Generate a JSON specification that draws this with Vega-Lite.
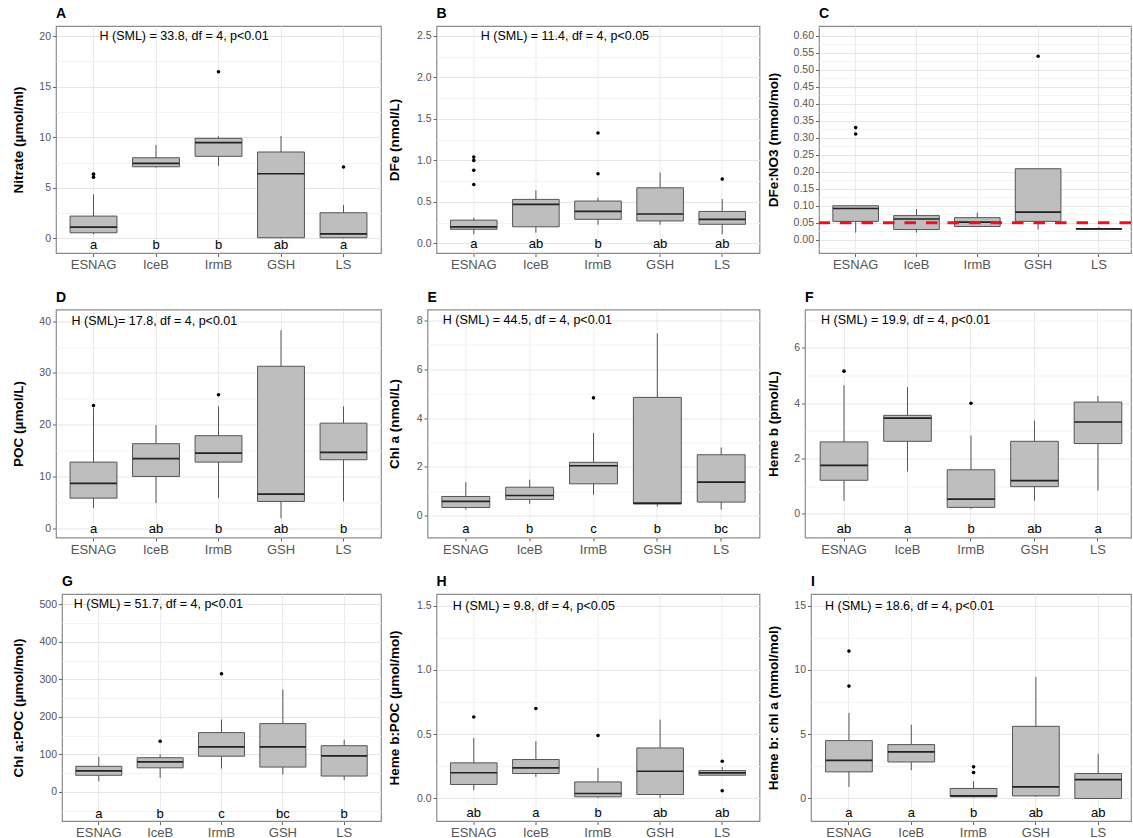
{
"$schema": "https://vega.github.io/schema/vega-lite/v6.json",
"background": "white",
"padding": {"left": 4.5, "top": 6, "right": 0, "bottom": 0},
"autosize": {"type": "pad"},
"config": {
  "font": "Liberation Sans",
  "view": {"stroke": "#8c8c8c", "strokeWidth": 1.2},
  "title": {"anchor": "start", "frame": "group", "fontSize": 14, "fontWeight": "bold", "color": "#000", "offset": 5, "baseline": "alphabetic", "font": "Liberation Sans"},
  "axisX": {"labelAngle": 0, "labelFontSize": 13, "labelColor": "#555", "tickSize": 3.5, "tickColor": "#666", "labelPadding": 2, "grid": true, "gridColor": "#EBEBEB", "domain": false, "labelFont": "Liberation Sans"},
  "axisY": {"labelFontSize": 10.5, "labelColor": "#555", "tickSize": 3.5, "tickColor": "#666", "labelPadding": 2, "titleFontSize": 13.5, "titleFontWeight": "bold", "titleColor": "#000", "titlePadding": 4, "domain": false, "labelOverlap": false, "labelSeparation": 0, "grid": true, "gridColor": "#E6E6E6", "labelFont": "Liberation Sans", "titleFont": "Liberation Sans"},
  "text": {"font": "Liberation Sans"}
},
"datasets": {
  "box": [
    {"p":"A","g":"ESNAG","lo":0.4,"q1":0.55,"med":1.1,"q3":2.2,"hi":4.35},
    {"p":"A","g":"IceB","lo":7.0,"q1":7.08,"med":7.42,"q3":7.97,"hi":9.23},
    {"p":"A","g":"IrmB","lo":7.15,"q1":8.11,"med":9.46,"q3":9.89,"hi":10.1},
    {"p":"A","g":"GSH","lo":0,"q1":0.06,"med":6.39,"q3":8.54,"hi":10.12},
    {"p":"A","g":"LS","lo":0,"q1":0.06,"med":0.45,"q3":2.53,"hi":3.3},
    {"p":"B","g":"ESNAG","lo":0.11,"q1":0.17,"med":0.2,"q3":0.28,"hi":0.31},
    {"p":"B","g":"IceB","lo":0.13,"q1":0.2,"med":0.47,"q3":0.53,"hi":0.64},
    {"p":"B","g":"IrmB","lo":0.225,"q1":0.29,"med":0.385,"q3":0.51,"hi":0.55},
    {"p":"B","g":"GSH","lo":0.225,"q1":0.27,"med":0.354,"q3":0.67,"hi":0.855},
    {"p":"B","g":"LS","lo":0.11,"q1":0.23,"med":0.29,"q3":0.385,"hi":0.535},
    {"p":"C","g":"ESNAG","lo":0.021,"q1":0.054,"med":0.092,"q3":0.1,"hi":0.1},
    {"p":"C","g":"IceB","lo":0.021,"q1":0.03,"med":0.061,"q3":0.071,"hi":0.09},
    {"p":"C","g":"IrmB","lo":0.039,"q1":0.039,"med":0.052,"q3":0.065,"hi":0.08},
    {"p":"C","g":"GSH","lo":0.03,"q1":0.054,"med":0.081,"q3":0.209,"hi":0.209},
    {"p":"C","g":"LS","lo":0.031,"q1":0.031,"med":0.032,"q3":0.033,"hi":0.037},
    {"p":"D","g":"ESNAG","lo":3.87,"q1":5.81,"med":8.65,"q3":12.77,"hi":23.2},
    {"p":"D","g":"IceB","lo":4.84,"q1":10.0,"med":13.43,"q3":16.33,"hi":19.9},
    {"p":"D","g":"IrmB","lo":5.81,"q1":12.77,"med":14.52,"q3":17.88,"hi":23.55},
    {"p":"D","g":"GSH","lo":1.94,"q1":5.17,"med":6.59,"q3":31.3,"hi":38.26},
    {"p":"D","g":"LS","lo":5.17,"q1":13.23,"med":14.65,"q3":20.3,"hi":23.55},
    {"p":"E","g":"ESNAG","lo":0.25,"q1":0.34,"med":0.59,"q3":0.79,"hi":1.38},
    {"p":"E","g":"IceB","lo":0.49,"q1":0.67,"med":0.83,"q3":1.17,"hi":1.48},
    {"p":"E","g":"IrmB","lo":0.86,"q1":1.31,"med":2.05,"q3":2.19,"hi":3.39},
    {"p":"E","g":"GSH","lo":0.38,"q1":0.48,"med":0.52,"q3":4.85,"hi":7.47},
    {"p":"E","g":"LS","lo":0.25,"q1":0.56,"med":1.38,"q3":2.5,"hi":2.8},
    {"p":"F","g":"ESNAG","lo":0.47,"q1":1.21,"med":1.75,"q3":2.6,"hi":4.65},
    {"p":"F","g":"IceB","lo":1.53,"q1":2.62,"med":3.46,"q3":3.56,"hi":4.58},
    {"p":"F","g":"IrmB","lo":0.18,"q1":0.23,"med":0.53,"q3":1.59,"hi":2.83},
    {"p":"F","g":"GSH","lo":0.47,"q1":0.98,"med":1.2,"q3":2.62,"hi":3.37},
    {"p":"F","g":"LS","lo":0.84,"q1":2.54,"med":3.32,"q3":4.04,"hi":4.26},
    {"p":"G","g":"ESNAG","lo":28,"q1":44,"med":56,"q3":68,"hi":93},
    {"p":"G","g":"IceB","lo":37,"q1":64,"med":80,"q3":91,"hi":100},
    {"p":"G","g":"IrmB","lo":62,"q1":95,"med":120,"q3":158,"hi":193},
    {"p":"G","g":"GSH","lo":46,"q1":66,"med":120,"q3":182,"hi":273},
    {"p":"G","g":"LS","lo":31,"q1":42,"med":96,"q3":123,"hi":139},
    {"p":"H","g":"ESNAG","lo":0.065,"q1":0.109,"med":0.2,"q3":0.277,"hi":0.47},
    {"p":"H","g":"IceB","lo":0.168,"q1":0.194,"med":0.238,"q3":0.303,"hi":0.445},
    {"p":"H","g":"IrmB","lo":0.005,"q1":0.013,"med":0.039,"q3":0.129,"hi":0.238},
    {"p":"H","g":"GSH","lo":0.005,"q1":0.031,"med":0.212,"q3":0.393,"hi":0.613},
    {"p":"H","g":"LS","lo":0.181,"q1":0.181,"med":0.199,"q3":0.217,"hi":0.245},
    {"p":"I","g":"ESNAG","lo":0.9,"q1":2.07,"med":2.97,"q3":4.5,"hi":6.65},
    {"p":"I","g":"IceB","lo":2.2,"q1":2.84,"med":3.62,"q3":4.19,"hi":5.74},
    {"p":"I","g":"IrmB","lo":0.08,"q1":0.13,"med":0.2,"q3":0.78,"hi":1.35},
    {"p":"I","g":"GSH","lo":0.13,"q1":0.2,"med":0.9,"q3":5.61,"hi":9.44},
    {"p":"I","g":"LS","lo":0,"q1":0,"med":1.47,"q3":1.94,"hi":3.47}
  ],
  "out": [
    {"p":"A","g":"ESNAG","v":6.05},{"p":"A","g":"ESNAG","v":6.35},{"p":"A","g":"IrmB","v":16.48},{"p":"A","g":"LS","v":7.05},
    {"p":"B","g":"ESNAG","v":1.04},{"p":"B","g":"ESNAG","v":1.0},{"p":"B","g":"ESNAG","v":0.88},{"p":"B","g":"ESNAG","v":0.71},{"p":"B","g":"IrmB","v":1.33},{"p":"B","g":"IrmB","v":0.84},{"p":"B","g":"LS","v":0.775},
    {"p":"C","g":"ESNAG","v":0.33},{"p":"C","g":"ESNAG","v":0.311},{"p":"C","g":"GSH","v":0.54},
    {"p":"D","g":"ESNAG","v":23.7},{"p":"D","g":"IrmB","v":25.8},
    {"p":"E","g":"IrmB","v":4.83},
    {"p":"F","g":"ESNAG","v":5.16},{"p":"F","g":"IrmB","v":4.0},
    {"p":"G","g":"IceB","v":135},{"p":"G","g":"IrmB","v":315},
    {"p":"H","g":"ESNAG","v":0.634},{"p":"H","g":"IceB","v":0.70},{"p":"H","g":"IrmB","v":0.49},{"p":"H","g":"LS","v":0.29},{"p":"H","g":"LS","v":0.06},
    {"p":"I","g":"ESNAG","v":11.46},{"p":"I","g":"ESNAG","v":8.74},{"p":"I","g":"IrmB","v":2.46},{"p":"I","g":"IrmB","v":2.02}
  ],
  "let": [
    {"p":"A","g":"ESNAG","l":"a"},{"p":"A","g":"IceB","l":"b"},{"p":"A","g":"IrmB","l":"b"},{"p":"A","g":"GSH","l":"ab"},{"p":"A","g":"LS","l":"a"},
    {"p":"B","g":"ESNAG","l":"a"},{"p":"B","g":"IceB","l":"ab"},{"p":"B","g":"IrmB","l":"b"},{"p":"B","g":"GSH","l":"ab"},{"p":"B","g":"LS","l":"ab"},
    {"p":"D","g":"ESNAG","l":"a"},{"p":"D","g":"IceB","l":"ab"},{"p":"D","g":"IrmB","l":"b"},{"p":"D","g":"GSH","l":"ab"},{"p":"D","g":"LS","l":"b"},
    {"p":"E","g":"ESNAG","l":"a"},{"p":"E","g":"IceB","l":"b"},{"p":"E","g":"IrmB","l":"c"},{"p":"E","g":"GSH","l":"b"},{"p":"E","g":"LS","l":"bc"},
    {"p":"F","g":"ESNAG","l":"ab"},{"p":"F","g":"IceB","l":"a"},{"p":"F","g":"IrmB","l":"b"},{"p":"F","g":"GSH","l":"ab"},{"p":"F","g":"LS","l":"a"},
    {"p":"G","g":"ESNAG","l":"a"},{"p":"G","g":"IceB","l":"b"},{"p":"G","g":"IrmB","l":"c"},{"p":"G","g":"GSH","l":"bc"},{"p":"G","g":"LS","l":"b"},
    {"p":"H","g":"ESNAG","l":"ab"},{"p":"H","g":"IceB","l":"a"},{"p":"H","g":"IrmB","l":"b"},{"p":"H","g":"GSH","l":"ab"},{"p":"H","g":"LS","l":"ab"},
    {"p":"I","g":"ESNAG","l":"a"},{"p":"I","g":"IceB","l":"a"},{"p":"I","g":"IrmB","l":"b"},{"p":"I","g":"GSH","l":"ab"},{"p":"I","g":"LS","l":"ab"}
  ]
},
"spacing": 16.5,
"bounds": "full",
"vconcat": [
{"spacing": 4.5, "bounds": "full", "hconcat": [
{"width": 1, "height": 227, "view": {"stroke": null}, "data": {"values": [{}]}, "mark": {"type": "point", "opacity": 0, "size": 0}},
{"width": 325, "height": 227, "title": {"text": "A"}, "resolve": {"axis": {"y": "independent"}},
 "layer": [
  {"data": {"name": "box"}, "transform": [{"filter": "datum.p==='A'"}], "mark": {"type": "rule", "color": "#555", "strokeWidth": 1},
   "encoding": {"x": {"field": "g", "type": "nominal", "scale": {"type": "band", "domain": ["ESNAG","IceB","IrmB","GSH","LS"], "paddingInner": 0.25, "paddingOuter": 0.225}, "axis": {"title": null, "bandPosition": 0.5}},
    "y": {"field": "lo", "type": "quantitative", "scale": {"domain": [-1.45, 21.0], "nice": false, "zero": false},
      "axis": {"orient": "left", "title": "Nitrate (µmol/ml)", "values": [0,5,10,15,20], "labelOverlap": false, "minExtent": 27, "maxExtent": 27}},
    "y2": {"field": "hi"}}},
  {"data": {"name": "box"}, "transform": [{"filter": "datum.p==='A'"}], "mark": {"type": "bar", "fill": "#BEBEBE", "stroke": "#555", "strokeWidth": 1},
   "encoding": {"x": {"field": "g", "type": "nominal"}, "y": {"field": "q1", "type": "quantitative", "axis": {"orient": "right", "values": [2.5,7.5,12.5,17.5], "labels": false, "ticks": false, "domain": false, "title": null, "grid": true, "gridColor": "#F3F3F3", "minExtent": 0, "maxExtent": 0}}, "y2": {"field": "q3"}}},
  {"data": {"name": "box"}, "transform": [{"filter": "datum.p==='A'"}], "mark": {"type": "bar", "fillOpacity": 0, "stroke": "#222", "strokeWidth": 1.7},
   "encoding": {"x": {"field": "g", "type": "nominal"}, "y": {"field": "med", "type": "quantitative", "axis": null}, "y2": {"field": "med"}}},
  {"data": {"name": "out"}, "transform": [{"filter": "datum.p==='A'"}], "mark": {"type": "circle", "color": "#000", "size": 13, "opacity": 1},
   "encoding": {"x": {"field": "g", "type": "nominal"}, "y": {"field": "v", "type": "quantitative", "axis": null}}},
  {"data": {"name": "let"}, "transform": [{"filter": "datum.p==='A'"}], "mark": {"type": "text", "fontSize": 13, "color": "#000", "baseline": "middle"},
   "encoding": {"x": {"field": "g", "type": "nominal"}, "y": {"datum": -0.66, "axis": null}, "text": {"field": "l"}}},
  {"data": {"values": [{}]}, "mark": {"type": "text", "align": "left", "baseline": "middle", "fontSize": 12.5, "color": "#000", "dx": 6},
   "encoding": {"x": {"datum": "ESNAG", "type": "nominal"}, "y": {"datum": 20, "axis": null}, "text": {"value": "H (SML) = 33.8, df = 4, p<0.01"}}}
 ]},
{"width": 323, "height": 227, "title": {"text": "B"}, "resolve": {"axis": {"y": "independent"}},
 "layer": [
  {"data": {"name": "box"}, "transform": [{"filter": "datum.p==='B'"}], "mark": {"type": "rule", "color": "#555", "strokeWidth": 1},
   "encoding": {"x": {"field": "g", "type": "nominal", "scale": {"type": "band", "domain": ["ESNAG","IceB","IrmB","GSH","LS"], "paddingInner": 0.25, "paddingOuter": 0.225}, "axis": {"title": null, "bandPosition": 0.5}},
    "y": {"field": "lo", "type": "quantitative", "scale": {"domain": [-0.116, 2.62], "nice": false, "zero": false},
      "axis": {"orient": "left", "title": "DFe (nmol/L)", "values": [0,0.5,1,1.5,2,2.5], "format": ".1f", "labelOverlap": false, "minExtent": 31, "maxExtent": 31}},
    "y2": {"field": "hi"}}},
  {"data": {"name": "box"}, "transform": [{"filter": "datum.p==='B'"}], "mark": {"type": "bar", "fill": "#BEBEBE", "stroke": "#555", "strokeWidth": 1},
   "encoding": {"x": {"field": "g", "type": "nominal"}, "y": {"field": "q1", "type": "quantitative", "axis": {"orient": "right", "values": [0.25,0.75,1.25,1.75,2.25], "labels": false, "ticks": false, "domain": false, "title": null, "grid": true, "gridColor": "#F3F3F3", "minExtent": 0, "maxExtent": 0}}, "y2": {"field": "q3"}}},
  {"data": {"name": "box"}, "transform": [{"filter": "datum.p==='B'"}], "mark": {"type": "bar", "fillOpacity": 0, "stroke": "#222", "strokeWidth": 1.7},
   "encoding": {"x": {"field": "g", "type": "nominal"}, "y": {"field": "med", "type": "quantitative", "axis": null}, "y2": {"field": "med"}}},
  {"data": {"name": "out"}, "transform": [{"filter": "datum.p==='B'"}], "mark": {"type": "circle", "color": "#000", "size": 13, "opacity": 1},
   "encoding": {"x": {"field": "g", "type": "nominal"}, "y": {"field": "v", "type": "quantitative", "axis": null}}},
  {"data": {"name": "let"}, "transform": [{"filter": "datum.p==='B'"}], "mark": {"type": "text", "fontSize": 13, "color": "#000", "baseline": "middle"},
   "encoding": {"x": {"field": "g", "type": "nominal"}, "y": {"datum": -0.01, "axis": null}, "text": {"field": "l"}}},
  {"data": {"values": [{}]}, "mark": {"type": "text", "align": "left", "baseline": "middle", "fontSize": 12.5, "color": "#000", "dx": 7},
   "encoding": {"x": {"datum": "ESNAG", "type": "nominal"}, "y": {"datum": 2.5, "axis": null}, "text": {"value": "H (SML) = 11.4, df = 4, p<0.05"}}}
 ]},
{"width": 312, "height": 227, "title": {"text": "C"}, "resolve": {"axis": {"y": "independent"}},
 "layer": [
  {"data": {"name": "box"}, "transform": [{"filter": "datum.p==='C'"}], "mark": {"type": "rule", "color": "#555", "strokeWidth": 1},
   "encoding": {"x": {"field": "g", "type": "nominal", "scale": {"type": "band", "domain": ["ESNAG","IceB","IrmB","GSH","LS"], "paddingInner": 0.25, "paddingOuter": 0.19, "align": 0.6}, "axis": {"title": null, "bandPosition": 0.5}},
    "y": {"field": "lo", "type": "quantitative", "scale": {"domain": [-0.039, 0.629], "nice": false, "zero": false},
      "axis": {"orient": "left", "title": "DFe:NO3 (mmol/mol)", "values": [0,0.05,0.1,0.15,0.2,0.25,0.3,0.35,0.4,0.45,0.5,0.55,0.6], "format": ".2f", "labelOverlap": false, "minExtent": 35, "maxExtent": 35}},
    "y2": {"field": "hi"}}},
  {"data": {"name": "box"}, "transform": [{"filter": "datum.p==='C'"}], "mark": {"type": "bar", "fill": "#BEBEBE", "stroke": "#555", "strokeWidth": 1},
   "encoding": {"x": {"field": "g", "type": "nominal"}, "y": {"field": "q1", "type": "quantitative", "axis": {"orient": "right", "values": [-0.025,0.025,0.075,0.125,0.175,0.225,0.275,0.325,0.375,0.425,0.475,0.525,0.575,0.625], "labels": false, "ticks": false, "domain": false, "title": null, "grid": true, "gridColor": "#F3F3F3", "minExtent": 0, "maxExtent": 0}}, "y2": {"field": "q3"}}},
  {"data": {"name": "box"}, "transform": [{"filter": "datum.p==='C'"}], "mark": {"type": "bar", "fillOpacity": 0, "stroke": "#222", "strokeWidth": 1.7},
   "encoding": {"x": {"field": "g", "type": "nominal"}, "y": {"field": "med", "type": "quantitative", "axis": null}, "y2": {"field": "med"}}},
  {"data": {"name": "out"}, "transform": [{"filter": "datum.p==='C'"}], "mark": {"type": "circle", "color": "#000", "size": 13, "opacity": 1},
   "encoding": {"x": {"field": "g", "type": "nominal"}, "y": {"field": "v", "type": "quantitative", "axis": null}}},
  {"data": {"values": [{}]}, "mark": {"type": "rule", "color": "#E8141B", "strokeWidth": 3, "strokeDash": [11.5, 10]},
   "encoding": {"y": {"datum": 0.05, "axis": null}}}
 ]}
]},
{"spacing": 4.5, "bounds": "full", "hconcat": [
{"width": 1, "height": 228, "view": {"stroke": null}, "data": {"values": [{}]}, "mark": {"type": "point", "opacity": 0, "size": 0}},
{"width": 325, "height": 228, "title": {"text": "D"}, "resolve": {"axis": {"y": "independent"}},
 "layer": [
  {"data": {"name": "box"}, "transform": [{"filter": "datum.p==='D'"}], "mark": {"type": "rule", "color": "#555", "strokeWidth": 1},
   "encoding": {"x": {"field": "g", "type": "nominal", "scale": {"type": "band", "domain": ["ESNAG","IceB","IrmB","GSH","LS"], "paddingInner": 0.25, "paddingOuter": 0.225}, "axis": {"title": null, "bandPosition": 0.5}},
    "y": {"field": "lo", "type": "quantitative", "scale": {"domain": [-1.8, 42.27], "nice": false, "zero": false},
      "axis": {"orient": "left", "title": "POC (µmol/L)", "values": [0,10,20,30,40], "labelOverlap": false, "minExtent": 27, "maxExtent": 27}},
    "y2": {"field": "hi"}}},
  {"data": {"name": "box"}, "transform": [{"filter": "datum.p==='D'"}], "mark": {"type": "bar", "fill": "#BEBEBE", "stroke": "#555", "strokeWidth": 1},
   "encoding": {"x": {"field": "g", "type": "nominal"}, "y": {"field": "q1", "type": "quantitative", "axis": {"orient": "right", "values": [5,15,25,35], "labels": false, "ticks": false, "domain": false, "title": null, "grid": true, "gridColor": "#F3F3F3", "minExtent": 0, "maxExtent": 0}}, "y2": {"field": "q3"}}},
  {"data": {"name": "box"}, "transform": [{"filter": "datum.p==='D'"}], "mark": {"type": "bar", "fillOpacity": 0, "stroke": "#222", "strokeWidth": 1.7},
   "encoding": {"x": {"field": "g", "type": "nominal"}, "y": {"field": "med", "type": "quantitative", "axis": null}, "y2": {"field": "med"}}},
  {"data": {"name": "out"}, "transform": [{"filter": "datum.p==='D'"}], "mark": {"type": "circle", "color": "#000", "size": 13, "opacity": 1},
   "encoding": {"x": {"field": "g", "type": "nominal"}, "y": {"field": "v", "type": "quantitative", "axis": null}}},
  {"data": {"name": "let"}, "transform": [{"filter": "datum.p==='D'"}], "mark": {"type": "text", "fontSize": 13, "color": "#000", "baseline": "middle"},
   "encoding": {"x": {"field": "g", "type": "nominal"}, "y": {"datum": -0.2, "axis": null}, "text": {"field": "l"}}},
  {"data": {"values": [{}]}, "mark": {"type": "text", "align": "left", "baseline": "middle", "fontSize": 12.5, "color": "#000", "dx": -22},
   "encoding": {"x": {"datum": "ESNAG", "type": "nominal"}, "y": {"datum": 40, "axis": null}, "text": {"value": "H (SML)= 17.8, df = 4, p<0.01"}}}
 ]},
{"width": 332, "height": 228, "title": {"text": "E"}, "resolve": {"axis": {"y": "independent"}},
 "layer": [
  {"data": {"name": "box"}, "transform": [{"filter": "datum.p==='E'"}], "mark": {"type": "rule", "color": "#555", "strokeWidth": 1},
   "encoding": {"x": {"field": "g", "type": "nominal", "scale": {"type": "band", "domain": ["ESNAG","IceB","IrmB","GSH","LS"], "paddingInner": 0.25, "paddingOuter": 0.225}, "axis": {"title": null, "bandPosition": 0.5}},
    "y": {"field": "lo", "type": "quantitative", "scale": {"domain": [-0.89, 8.45], "nice": false, "zero": false},
      "axis": {"orient": "left", "title": "Chl a (nmol/L)", "values": [0,2,4,6,8], "labelOverlap": false, "minExtent": 22, "maxExtent": 22}},
    "y2": {"field": "hi"}}},
  {"data": {"name": "box"}, "transform": [{"filter": "datum.p==='E'"}], "mark": {"type": "bar", "fill": "#BEBEBE", "stroke": "#555", "strokeWidth": 1},
   "encoding": {"x": {"field": "g", "type": "nominal"}, "y": {"field": "q1", "type": "quantitative", "axis": {"orient": "right", "values": [1,3,5,7], "labels": false, "ticks": false, "domain": false, "title": null, "grid": true, "gridColor": "#F3F3F3", "minExtent": 0, "maxExtent": 0}}, "y2": {"field": "q3"}}},
  {"data": {"name": "box"}, "transform": [{"filter": "datum.p==='E'"}], "mark": {"type": "bar", "fillOpacity": 0, "stroke": "#222", "strokeWidth": 1.7},
   "encoding": {"x": {"field": "g", "type": "nominal"}, "y": {"field": "med", "type": "quantitative", "axis": null}, "y2": {"field": "med"}}},
  {"data": {"name": "out"}, "transform": [{"filter": "datum.p==='E'"}], "mark": {"type": "circle", "color": "#000", "size": 13, "opacity": 1},
   "encoding": {"x": {"field": "g", "type": "nominal"}, "y": {"field": "v", "type": "quantitative", "axis": null}}},
  {"data": {"name": "let"}, "transform": [{"filter": "datum.p==='E'"}], "mark": {"type": "text", "fontSize": 13, "color": "#000", "baseline": "middle"},
   "encoding": {"x": {"field": "g", "type": "nominal"}, "y": {"datum": -0.55, "axis": null}, "text": {"field": "l"}}},
  {"data": {"values": [{}]}, "mark": {"type": "text", "align": "left", "baseline": "middle", "fontSize": 12.5, "color": "#000", "dx": -23},
   "encoding": {"x": {"datum": "ESNAG", "type": "nominal"}, "y": {"datum": 8, "axis": null}, "text": {"value": "H (SML) = 44.5, df = 4, p<0.01"}}}
 ]},
{"width": 326, "height": 228, "title": {"text": "F"}, "resolve": {"axis": {"y": "independent"}},
 "layer": [
  {"data": {"name": "box"}, "transform": [{"filter": "datum.p==='F'"}], "mark": {"type": "rule", "color": "#555", "strokeWidth": 1},
   "encoding": {"x": {"field": "g", "type": "nominal", "scale": {"type": "band", "domain": ["ESNAG","IceB","IrmB","GSH","LS"], "paddingInner": 0.25, "paddingOuter": 0.192, "align": 0.623}, "axis": {"title": null, "bandPosition": 0.5}},
    "y": {"field": "lo", "type": "quantitative", "scale": {"domain": [-0.86, 7.39], "nice": false, "zero": false},
      "axis": {"orient": "left", "title": "Heme b (pmol/L)", "values": [0,2,4,6], "labelOverlap": false, "minExtent": 21, "maxExtent": 21}},
    "y2": {"field": "hi"}}},
  {"data": {"name": "box"}, "transform": [{"filter": "datum.p==='F'"}], "mark": {"type": "bar", "fill": "#BEBEBE", "stroke": "#555", "strokeWidth": 1},
   "encoding": {"x": {"field": "g", "type": "nominal"}, "y": {"field": "q1", "type": "quantitative", "axis": {"orient": "right", "values": [1,3,5,7], "labels": false, "ticks": false, "domain": false, "title": null, "grid": true, "gridColor": "#F3F3F3", "minExtent": 0, "maxExtent": 0}}, "y2": {"field": "q3"}}},
  {"data": {"name": "box"}, "transform": [{"filter": "datum.p==='F'"}], "mark": {"type": "bar", "fillOpacity": 0, "stroke": "#222", "strokeWidth": 1.7},
   "encoding": {"x": {"field": "g", "type": "nominal"}, "y": {"field": "med", "type": "quantitative", "axis": null}, "y2": {"field": "med"}}},
  {"data": {"name": "out"}, "transform": [{"filter": "datum.p==='F'"}], "mark": {"type": "circle", "color": "#000", "size": 13, "opacity": 1},
   "encoding": {"x": {"field": "g", "type": "nominal"}, "y": {"field": "v", "type": "quantitative", "axis": null}}},
  {"data": {"name": "let"}, "transform": [{"filter": "datum.p==='F'"}], "mark": {"type": "text", "fontSize": 13, "color": "#000", "baseline": "middle"},
   "encoding": {"x": {"field": "g", "type": "nominal"}, "y": {"datum": -0.56, "axis": null}, "text": {"field": "l"}}},
  {"data": {"values": [{}]}, "mark": {"type": "text", "align": "left", "baseline": "middle", "fontSize": 12.5, "color": "#000", "dx": -23},
   "encoding": {"x": {"datum": "ESNAG", "type": "nominal"}, "y": {"datum": 7, "axis": null}, "text": {"value": "H (SML) = 19.9, df = 4, p<0.01"}}}
 ]}
]},
{"spacing": 4.5, "bounds": "full", "hconcat": [
{"width": 1, "height": 227, "view": {"stroke": null}, "data": {"values": [{}]}, "mark": {"type": "point", "opacity": 0, "size": 0}},
{"width": 319, "height": 227, "title": {"text": "G"}, "resolve": {"axis": {"y": "independent"}},
 "layer": [
  {"data": {"name": "box"}, "transform": [{"filter": "datum.p==='G'"}], "mark": {"type": "rule", "color": "#555", "strokeWidth": 1},
   "encoding": {"x": {"field": "g", "type": "nominal", "scale": {"type": "band", "domain": ["ESNAG","IceB","IrmB","GSH","LS"], "paddingInner": 0.25, "paddingOuter": 0.225}, "axis": {"title": null, "bandPosition": 0.5}},
    "y": {"field": "lo", "type": "quantitative", "scale": {"domain": [-78, 528], "nice": false, "zero": false},
      "axis": {"orient": "left", "title": "Chl a:POC (µmol/mol)", "values": [0,100,200,300,400,500], "labelOverlap": false, "minExtent": 33, "maxExtent": 33}},
    "y2": {"field": "hi"}}},
  {"data": {"name": "box"}, "transform": [{"filter": "datum.p==='G'"}], "mark": {"type": "bar", "fill": "#BEBEBE", "stroke": "#555", "strokeWidth": 1},
   "encoding": {"x": {"field": "g", "type": "nominal"}, "y": {"field": "q1", "type": "quantitative", "axis": {"orient": "right", "values": [-50,50,150,250,350,450], "labels": false, "ticks": false, "domain": false, "title": null, "grid": true, "gridColor": "#F3F3F3", "minExtent": 0, "maxExtent": 0}}, "y2": {"field": "q3"}}},
  {"data": {"name": "box"}, "transform": [{"filter": "datum.p==='G'"}], "mark": {"type": "bar", "fillOpacity": 0, "stroke": "#222", "strokeWidth": 1.7},
   "encoding": {"x": {"field": "g", "type": "nominal"}, "y": {"field": "med", "type": "quantitative", "axis": null}, "y2": {"field": "med"}}},
  {"data": {"name": "out"}, "transform": [{"filter": "datum.p==='G'"}], "mark": {"type": "circle", "color": "#000", "size": 13, "opacity": 1},
   "encoding": {"x": {"field": "g", "type": "nominal"}, "y": {"field": "v", "type": "quantitative", "axis": null}}},
  {"data": {"name": "let"}, "transform": [{"filter": "datum.p==='G'"}], "mark": {"type": "text", "fontSize": 13, "color": "#000", "baseline": "middle"},
   "encoding": {"x": {"field": "g", "type": "nominal"}, "y": {"datum": -58, "axis": null}, "text": {"field": "l"}}},
  {"data": {"values": [{}]}, "mark": {"type": "text", "align": "left", "baseline": "middle", "fontSize": 12.5, "color": "#000", "dx": -25},
   "encoding": {"x": {"datum": "ESNAG", "type": "nominal"}, "y": {"datum": 500, "axis": null}, "text": {"value": "H (SML) = 51.7, df = 4, p<0.01"}}}
 ]},
{"width": 323, "height": 227, "title": {"text": "H"}, "resolve": {"axis": {"y": "independent"}},
 "layer": [
  {"data": {"name": "box"}, "transform": [{"filter": "datum.p==='H'"}], "mark": {"type": "rule", "color": "#555", "strokeWidth": 1},
   "encoding": {"x": {"field": "g", "type": "nominal", "scale": {"type": "band", "domain": ["ESNAG","IceB","IrmB","GSH","LS"], "paddingInner": 0.25, "paddingOuter": 0.225}, "axis": {"title": null, "bandPosition": 0.5}},
    "y": {"field": "lo", "type": "quantitative", "scale": {"domain": [-0.175, 1.59], "nice": false, "zero": false},
      "axis": {"orient": "left", "title": "Heme b:POC (µmol/mol)", "values": [0,0.5,1,1.5], "format": ".1f", "labelOverlap": false, "minExtent": 31, "maxExtent": 31}},
    "y2": {"field": "hi"}}},
  {"data": {"name": "box"}, "transform": [{"filter": "datum.p==='H'"}], "mark": {"type": "bar", "fill": "#BEBEBE", "stroke": "#555", "strokeWidth": 1},
   "encoding": {"x": {"field": "g", "type": "nominal"}, "y": {"field": "q1", "type": "quantitative", "axis": {"orient": "right", "values": [0.25,0.75,1.25], "labels": false, "ticks": false, "domain": false, "title": null, "grid": true, "gridColor": "#F3F3F3", "minExtent": 0, "maxExtent": 0}}, "y2": {"field": "q3"}}},
  {"data": {"name": "box"}, "transform": [{"filter": "datum.p==='H'"}], "mark": {"type": "bar", "fillOpacity": 0, "stroke": "#222", "strokeWidth": 1.7},
   "encoding": {"x": {"field": "g", "type": "nominal"}, "y": {"field": "med", "type": "quantitative", "axis": null}, "y2": {"field": "med"}}},
  {"data": {"name": "out"}, "transform": [{"filter": "datum.p==='H'"}], "mark": {"type": "circle", "color": "#000", "size": 13, "opacity": 1},
   "encoding": {"x": {"field": "g", "type": "nominal"}, "y": {"field": "v", "type": "quantitative", "axis": null}}},
  {"data": {"name": "let"}, "transform": [{"filter": "datum.p==='H'"}], "mark": {"type": "text", "fontSize": 13, "color": "#000", "baseline": "middle"},
   "encoding": {"x": {"field": "g", "type": "nominal"}, "y": {"datum": -0.116, "axis": null}, "text": {"field": "l"}}},
  {"data": {"values": [{}]}, "mark": {"type": "text", "align": "left", "baseline": "middle", "fontSize": 12.5, "color": "#000", "dx": -21},
   "encoding": {"x": {"datum": "ESNAG", "type": "nominal"}, "y": {"datum": 1.5, "axis": null}, "text": {"value": "H (SML) = 9.8, df = 4, p<0.05"}}}
 ]},
{"width": 320, "height": 227, "title": {"text": "I"}, "resolve": {"axis": {"y": "independent"}},
 "layer": [
  {"data": {"name": "box"}, "transform": [{"filter": "datum.p==='I'"}], "mark": {"type": "rule", "color": "#555", "strokeWidth": 1},
   "encoding": {"x": {"field": "g", "type": "nominal", "scale": {"type": "band", "domain": ["ESNAG","IceB","IrmB","GSH","LS"], "paddingInner": 0.25, "paddingOuter": 0.193, "align": 0.607}, "axis": {"title": null, "bandPosition": 0.5}},
    "y": {"field": "lo", "type": "quantitative", "scale": {"domain": [-1.75, 15.9], "nice": false, "zero": false},
      "axis": {"orient": "left", "title": "Heme b: chl a (mmol/mol)", "values": [0,5,10,15], "labelOverlap": false, "minExtent": 27, "maxExtent": 27}},
    "y2": {"field": "hi"}}},
  {"data": {"name": "box"}, "transform": [{"filter": "datum.p==='I'"}], "mark": {"type": "bar", "fill": "#BEBEBE", "stroke": "#555", "strokeWidth": 1},
   "encoding": {"x": {"field": "g", "type": "nominal"}, "y": {"field": "q1", "type": "quantitative", "axis": {"orient": "right", "values": [2.5,7.5,12.5], "labels": false, "ticks": false, "domain": false, "title": null, "grid": true, "gridColor": "#F3F3F3", "minExtent": 0, "maxExtent": 0}}, "y2": {"field": "q3"}}},
  {"data": {"name": "box"}, "transform": [{"filter": "datum.p==='I'"}], "mark": {"type": "bar", "fillOpacity": 0, "stroke": "#222", "strokeWidth": 1.7},
   "encoding": {"x": {"field": "g", "type": "nominal"}, "y": {"field": "med", "type": "quantitative", "axis": null}, "y2": {"field": "med"}}},
  {"data": {"name": "out"}, "transform": [{"filter": "datum.p==='I'"}], "mark": {"type": "circle", "color": "#000", "size": 13, "opacity": 1},
   "encoding": {"x": {"field": "g", "type": "nominal"}, "y": {"field": "v", "type": "quantitative", "axis": null}}},
  {"data": {"name": "let"}, "transform": [{"filter": "datum.p==='I'"}], "mark": {"type": "text", "fontSize": 13, "color": "#000", "baseline": "middle"},
   "encoding": {"x": {"field": "g", "type": "nominal"}, "y": {"datum": -1.16, "axis": null}, "text": {"field": "l"}}},
  {"data": {"values": [{}]}, "mark": {"type": "text", "align": "left", "baseline": "middle", "fontSize": 12.5, "color": "#000", "dx": -24},
   "encoding": {"x": {"datum": "ESNAG", "type": "nominal"}, "y": {"datum": 15, "axis": null}, "text": {"value": "H (SML) = 18.6, df = 4, p<0.01"}}}
 ]}
]}
]
}
